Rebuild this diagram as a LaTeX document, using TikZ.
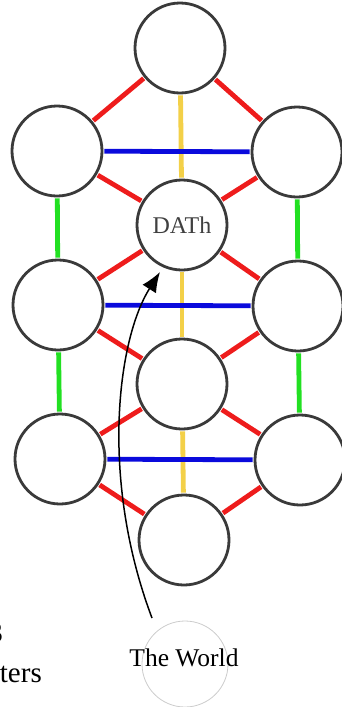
\documentclass[tikz,border=0pt]{standalone}
\usepackage{fontspec}
\setmainfont{Liberation Serif}
\usetikzlibrary{arrows.meta}
\definecolor{cred}{HTML}{EE1C1C}
\definecolor{cblue}{HTML}{0A0ADC}
\definecolor{cgreen}{HTML}{22E022}
\definecolor{cyellow}{HTML}{F3D048}
\definecolor{cring}{HTML}{3A3A3A}
\tikzset{
  sef/.style={circle, draw=cring, line width=2.8pt, fill=white, minimum size=90pt, inner sep=0pt},
  world/.style={circle, draw=black!20, line width=0.8pt, minimum size=86pt, inner sep=0pt},
  redline/.style={draw=cred, line width=4.8pt},
  blueline/.style={draw=cblue, line width=4.8pt},
  greenline/.style={draw=cgreen, line width=4.8pt},
  yellowline/.style={draw=cyellow, line width=4.8pt},
  pointer/.style={draw=black, line width=1.5pt, -{Latex[length=20pt,width=16pt]}},
  frag/.style={anchor=base east, inner sep=0pt, font=\fontsize{29}{31}\selectfont}
}
\begin{document}
\begin{tikzpicture}[x=1pt,y=-1pt]
\useasboundingbox (0,0) rectangle (342,707);
% nodes
\node[sef] (K) at (180,48) {};
\node[sef] (LU) at (57,151) {};
\node[sef] (RU) at (297,152) {};
\node[sef] (D) at (182,225) {\fontsize{24}{26}\selectfont\color{black!75}DATh};
\node[sef] (LM) at (58,305) {};
\node[sef] (RM) at (298,306) {};
\node[sef] (T) at (182,384) {};
\node[sef] (LL) at (60,459) {};
\node[sef] (RL) at (300,460) {};
\node[sef] (Y) at (184,540) {};
\node[world] (W) at (185,664) {};
\node[inner sep=0pt, font=\fontsize{25.5}{27}\selectfont] (WT) at (184,658) {The World};
% connectors
\begin{scope}[shorten <=1pt, shorten >=1pt]
\draw[redline] (K) -- (LU);
\draw[redline] (K) -- (RU);
\draw[redline] (LU) -- (D);
\draw[redline] (RU) -- (D);
\draw[redline] (D) -- (LM);
\draw[redline] (D) -- (RM);
\draw[redline] (LM) -- (T);
\draw[redline] (RM) -- (T);
\draw[redline] (T) -- (LL);
\draw[redline] (T) -- (RL);
\draw[redline] (LL) -- (Y);
\draw[redline] (RL) -- (Y);
\draw[greenline] (LU) -- (LM);
\draw[greenline] (LM) -- (LL);
\draw[greenline] (RU) -- (RM);
\draw[greenline] (RM) -- (RL);
\draw[yellowline] (K) -- (D);
\draw[yellowline] (D) -- (T);
\draw[yellowline] (T) -- (Y);
\draw[blueline] (LU) -- (RU);
\draw[blueline] (LM) -- (RM);
\draw[blueline] (LL) -- (RL);
\end{scope}
% arrow
\coordinate (ws) at (152,618);
\coordinate (de) at (160,272);
\draw[pointer] (ws) .. controls (100,480) and (117,340) .. (de);
% clipped text fragments at left edge
\node[frag] (f1) at (3,642) {3};
\node[frag] (f2) at (42,682) {ters};
\node[frag] (f3) at (17,722) {rs};
\end{tikzpicture}
\end{document}
